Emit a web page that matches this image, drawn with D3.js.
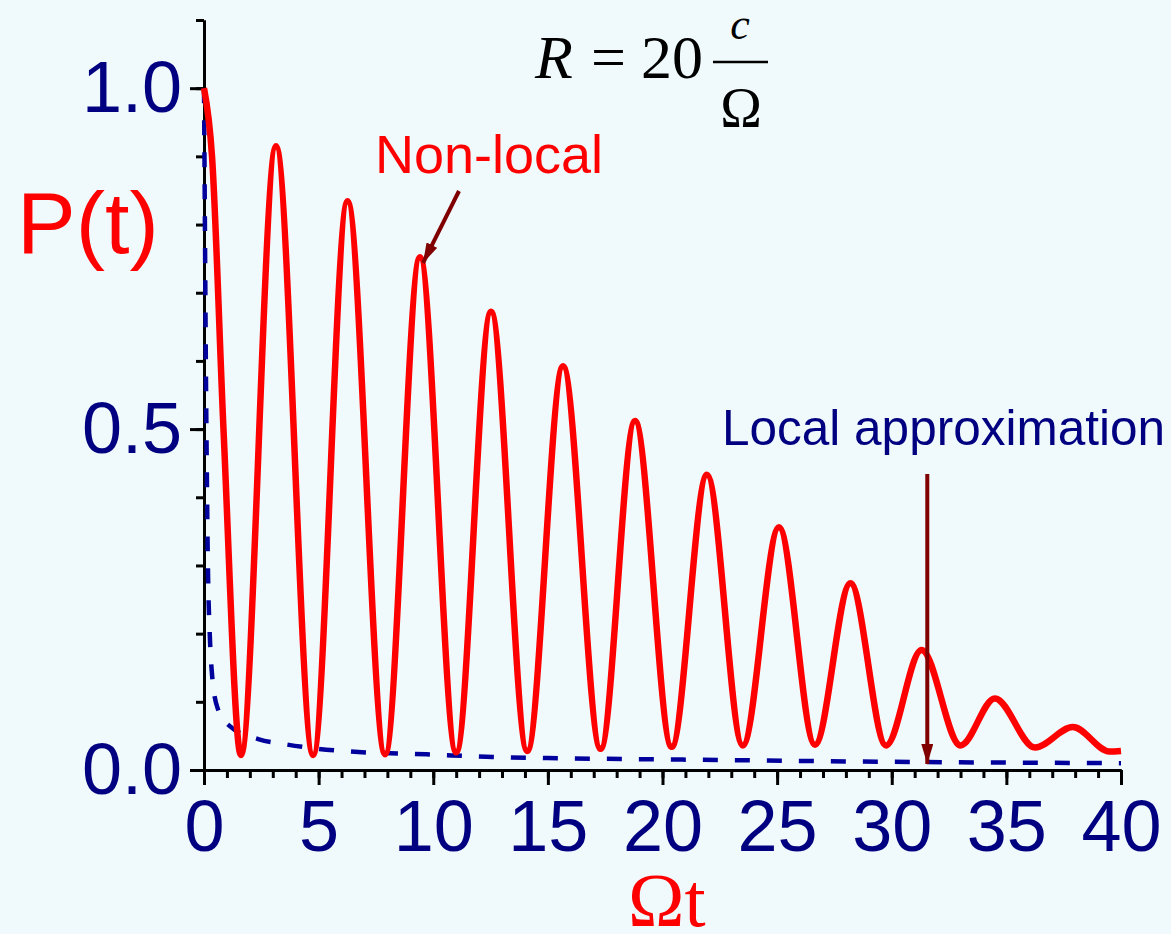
<!DOCTYPE html>
<meta charset="utf-8">
<head>
  <style>
    html, body { margin: 0; padding: 0; background: #f0fafc; }
    svg { display: block; }
    .sans { font-family: "Liberation Sans", Arial, sans-serif; }
    .serif { font-family: "Liberation Serif", "Times New Roman", serif; }
  </style>
  <script src="https://d3js.org/d3.v7.min.js"></script>
</head>
<body>
  <div id="chart"></div>

  <script>
    // Non-local curve: peaks and troughs (Ωt, P)
    const nonLocalT = [0, 0.35, 0.85, 1.61, 3.14, 4.76, 6.26, 7.9, 9.42, 11.0, 12.52, 14.1, 15.66, 17.3, 18.8,
      20.4, 21.94, 23.5, 25.08, 26.65, 28.2, 29.75, 31.3, 33.0, 34.5, 36.25, 37.9, 39.5, 40];
    const nonLocalP = [1.0, 0.9, 0.5, 0.022, 0.915, 0.022, 0.834, 0.023, 0.752, 0.026, 0.672, 0.028, 0.592, 0.031, 0.512,
      0.034, 0.433, 0.036, 0.356, 0.037, 0.274, 0.036, 0.176, 0.036, 0.105, 0.033, 0.063, 0.027, 0.028];

    // Local approximation (dashed)
    const localT = [0, 0.04, 0.08, 0.12, 0.17, 0.25, 0.35, 0.6, 1.1, 2.4, 3.5, 5, 6.4, 9.7, 12.6, 16, 21.6, 30, 40];
    const localP = [1.0, 0.8, 0.6, 0.45, 0.3, 0.2, 0.14, 0.09, 0.065, 0.045, 0.038, 0.031, 0.027, 0.023, 0.019, 0.017, 0.015, 0.012, 0.010];

    const xMajor = [0, 5, 10, 15, 20, 25, 30, 35, 40];
    const yMajor = [0, 0.5, 1.0];
    const yLabels = ["0.0", "0.5", "1.0"];

    const W = 1171, H = 934;
    const svg = d3.select("#chart").append("svg")
      .attr("width", W)
      .attr("height", H);

    svg.append("rect").attr("width", W).attr("height", H).attr("fill", "#f0fafc");

    const x = d3.scaleLinear().domain([0, 40]).range([204, 1121]);
    const y = d3.scaleLinear().domain([0, 1.1]).range([770, 20]);

    // minor ticks
    svg.append("g")
      .attr("transform", "translate(0,770)")
      .call(d3.axisBottom(x).tickValues(d3.range(0, 41, 1)).tickSize(8).tickSizeOuter(0).tickFormat(""))
      .call(g => g.selectAll("path,line").attr("stroke", "#000").attr("stroke-width", 3));
    svg.append("g")
      .attr("transform", "translate(204,0)")
      .call(d3.axisLeft(y).tickValues(d3.range(0, 12).map(i => i / 10)).tickSize(8).tickSizeOuter(0).tickFormat(""))
      .call(g => g.selectAll("path,line").attr("stroke", "#000").attr("stroke-width", 3));

    // major ticks + labels
    svg.append("g")
      .attr("class", "sans")
      .attr("transform", "translate(0,770)")
      .call(d3.axisBottom(x).tickValues(xMajor).tickSize(15).tickPadding(15).tickSizeOuter(0))
      .call(g => g.selectAll("path,line").attr("stroke", "#000").attr("stroke-width", 3))
      .call(g => g.selectAll("text").attr("fill", "#000080").style("font-size", "72px")
        .attr("font-family", null));
    svg.append("g")
      .attr("class", "sans")
      .attr("transform", "translate(204,0)")
      .call(d3.axisLeft(y).tickValues(yMajor).tickSize(14).tickPadding(8).tickSizeOuter(0)
        .tickFormat((d, i) => yLabels[i]))
      .call(g => g.selectAll("path,line").attr("stroke", "#000").attr("stroke-width", 3))
      .call(g => g.selectAll("text").attr("fill", "#000080").style("font-size", "72px")
        .attr("font-family", null));

    // curves
    const line = d3.line().curve(d3.curveMonotoneX).x(d => x(d[0])).y(d => y(d[1]));

    svg.append("path")
      .datum(localT.map((t, i) => [t, localP[i]]))
      .attr("d", line)
      .attr("fill", "none")
      .attr("stroke", "#00009c")
      .attr("stroke-width", 4.5)
      .attr("stroke-dasharray", "15,17");

    svg.append("path")
      .datum(nonLocalT.map((t, i) => [t, nonLocalP[i]]))
      .attr("d", line)
      .attr("fill", "none")
      .attr("stroke", "#ff0000")
      .attr("stroke-width", 6.5)
      .attr("stroke-linejoin", "round");

    // arrows
    svg.append("defs").append("marker")
      .attr("id", "head")
      .attr("viewBox", "0 0 20 12")
      .attr("refX", 20).attr("refY", 6)
      .attr("markerWidth", 20).attr("markerHeight", 12)
      .attr("markerUnits", "userSpaceOnUse")
      .attr("orient", "auto")
      .append("path").attr("d", "M0,0L20,6L0,12Z").attr("fill", "#800000");

    svg.append("line")
      .attr("x1", 459).attr("y1", 191).attr("x2", 423).attr("y2", 263)
      .attr("stroke", "#800000").attr("stroke-width", 4)
      .attr("marker-end", "url(#head)");
    svg.append("line")
      .attr("x1", x(31.55)).attr("y1", 474).attr("x2", x(31.55)).attr("y2", 764)
      .attr("stroke", "#800000").attr("stroke-width", 4)
      .attr("marker-end", "url(#head)");

    // labels
    svg.append("text").attr("class", "sans")
      .attr("x", 17).attr("y", 253)
      .attr("fill", "#ff0000").style("font-size", "88px")
      .text("P(t)");

    svg.append("text").attr("class", "serif")
      .attr("x", 628).attr("y", 926)
      .attr("fill", "#ff0000").style("font-size", "76px")
      .text("Ωt");

    svg.append("text").attr("class", "sans")
      .attr("x", 375).attr("y", 173)
      .attr("fill", "#ff0000").style("font-size", "54px")
      .text("Non-local");

    svg.append("text").attr("class", "sans")
      .attr("x", 722).attr("y", 445)
      .attr("fill", "#000080").style("font-size", "49.5px")
      .text("Local approximation");

    // formula R = 20 c/Ω
    const f = svg.append("g").attr("class", "serif").attr("fill", "#000");
    f.append("text").attr("x", 535).attr("y", 78).style("font-size", "62px").style("font-style", "italic").text("R");
    f.append("text").attr("x", 591).attr("y", 78).style("font-size", "62px").text("=");
    f.append("text").attr("x", 641).attr("y", 78).style("font-size", "62px").text("20");
    f.append("line").attr("x1", 713).attr("x2", 768).attr("y1", 62).attr("y2", 62)
      .attr("stroke", "#000").attr("stroke-width", 2.5);
    f.append("text").attr("x", 740).attr("y", 39).attr("text-anchor", "middle")
      .style("font-size", "44px").style("font-style", "italic").text("c");
    f.append("text").attr("x", 741).attr("y", 127).attr("text-anchor", "middle")
      .style("font-size", "56px").text("Ω");
  </script>
</body>
